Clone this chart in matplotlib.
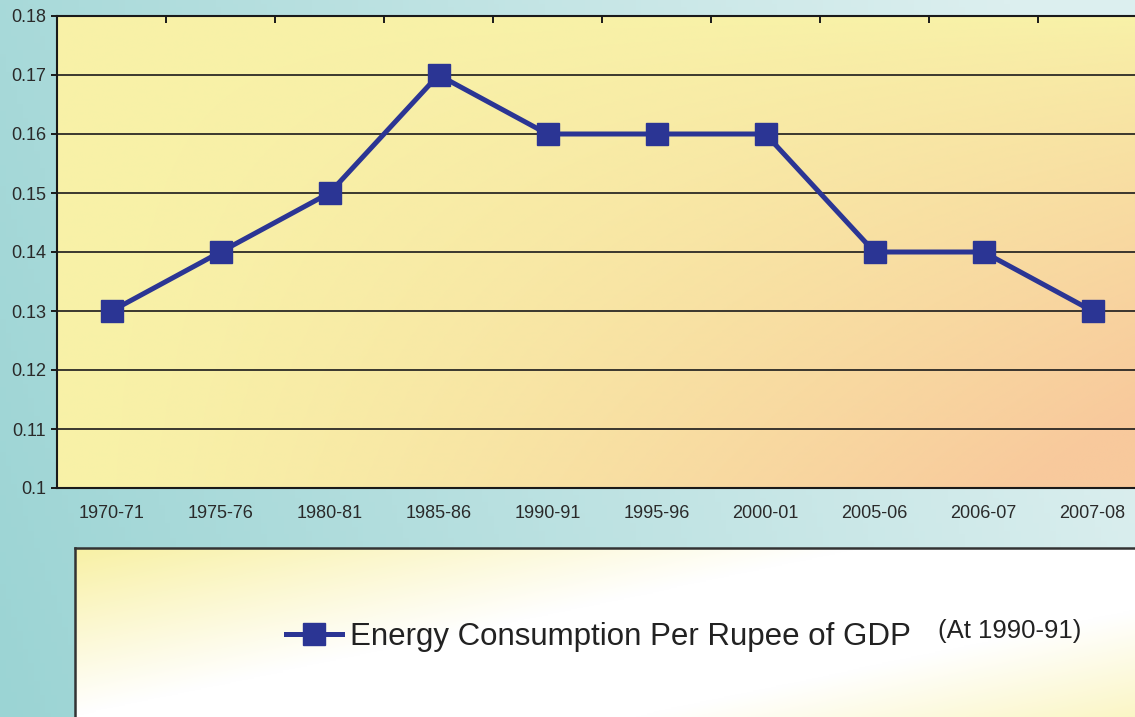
import numpy as np
import matplotlib
matplotlib.use("Agg")
import matplotlib.pyplot as plt
from matplotlib.lines import Line2D
from matplotlib.colors import to_rgb

plt.rcParams["font.family"] = ["Liberation Sans", "DejaVu Sans"]

categories = ["1970-71", "1975-76", "1980-81", "1985-86", "1990-91",
              "1995-96", "2000-01", "2005-06", "2006-07", "2007-08"]
values = [0.13, 0.14, 0.15, 0.17, 0.16, 0.16, 0.16, 0.14, 0.14, 0.13]
series_label = "Energy Consumption Per Rupee of GDP"
note = "(At 1990-91)"
yticks = [0.1, 0.11, 0.12, 0.13, 0.14, 0.15, 0.16, 0.17, 0.18]
ytick_labels = ["0.1", "0.11", "0.12", "0.13", "0.14", "0.15", "0.16", "0.17", "0.18"]

W, H = 1135, 717
fig = plt.figure(figsize=(W / 100, H / 100), dpi=100)

def grad(c1, c2, w):
    c1 = np.array(to_rgb(c1)); c2 = np.array(to_rgb(c2))
    return c1[None, None, :] * (1 - w[..., None]) + c2[None, None, :] * w[..., None]

# figure background (teal gradient)
bg = fig.add_axes([0, 0, 1, 1], zorder=0)
bg.set_axis_off()
xx, yy = np.meshgrid(np.linspace(0, 1, 200), np.linspace(1, 0, 200))
w = np.clip(xx * 0.9 + yy * 0.2, 0, 1)
bg.imshow(grad("#9bd4d4", "#dcefef", w), extent=[0, 1, 0, 1], aspect="auto")
bg.set_xlim(0, 1); bg.set_ylim(0, 1)

# main plot axes (extends beyond the right edge)
L, T, B = 57 / W, 1 - 16 / H, 1 - 488 / H
Rr = (57 + 10 * 109.0) / W
ax = fig.add_axes([L, B, Rr - L, T - B], zorder=2)
ax.patch.set_alpha(0)
xx, yy = np.meshgrid(np.linspace(0, 1, 200), np.linspace(1, 0, 200))
w = np.clip((xx ** 1.3) * ((1 - yy) ** 0.8) * 1.15, 0, 1)
ax.imshow(grad("#f8f2a8", "#f8c99c", w), extent=[0, 1, 0, 1], aspect="auto",
          transform=ax.transAxes, zorder=0)

x = np.arange(len(categories))
line_color = "#2b3594"
ax.plot(x, values, color=line_color, lw=3.6, marker="s", ms=16.5,
        mec=line_color, mfc=line_color, zorder=5, label=series_label)

ax.set_xlim(-0.5, len(categories) - 0.5)
ax.set_ylim(0.1, 0.18)
ax.set_yticks(yticks)
ax.set_yticklabels(ytick_labels)
ax.set_xticks(x)
ax.set_xticklabels(categories)
ax.yaxis.grid(True, color="#1a1a1a", lw=1.2, zorder=1)
ax.set_axisbelow(True)
ax.tick_params(axis="y", direction="out", length=4, width=1.4, color="#1a1a1a",
               labelsize=13, labelcolor="#2a2a2a", pad=4)
ax.tick_params(axis="x", length=0, labelsize=13, labelcolor="#2a2a2a", pad=12)
for side in ["left", "bottom", "top"]:
    ax.spines[side].set_color("#1a1a1a")
    ax.spines[side].set_linewidth(1.5)
ax.spines["right"].set_visible(False)
# top tick marks at category boundaries
ax2 = ax.secondary_xaxis("top")
ax2.set_xticks(np.arange(0.5, len(categories) - 0.5, 1))
ax2.tick_params(axis="x", direction="in", length=5, width=1.4, color="#1a1a1a",
                labeltop=False)
ax2.spines["top"].set_visible(False)

# legend box
lb = fig.add_axes([75 / W, -0.05, 1.1 - 75 / W, (717 - 548) / H + 0.05], zorder=1)
xx, yy = np.meshgrid(np.linspace(0, 1, 200), np.linspace(1, 0, 200))
d = (xx * 0.55 + (1 - yy) * 0.45)
w = np.clip(np.abs(d - 0.5) * 2.6 - 0.35, 0, 1)
lb.imshow(grad("#ffffff", "#f8f0a0", w), extent=[0, 1, 0, 1], aspect="auto",
          transform=lb.transAxes)
lb.set_xticks([]); lb.set_yticks([])
for s in lb.spines.values():
    s.set_color("#333333"); s.set_linewidth(1.8)

handle = Line2D([], [], color=line_color, lw=3.6, marker="s", ms=16.5,
                mec=line_color, mfc=line_color)
fig.legend([handle], [series_label], loc="center left",
           bbox_to_anchor=(258 / W, 1 - 637 / H), frameon=False,
           fontsize=22.5, handlelength=1.8, handletextpad=0.26,
           labelcolor="#222222")
fig.text(938 / W, 1 - 631 / H, note, fontsize=18.5, color="#222222",
         va="center", ha="left", zorder=5)

fig.savefig("out.png", dpi=100)
